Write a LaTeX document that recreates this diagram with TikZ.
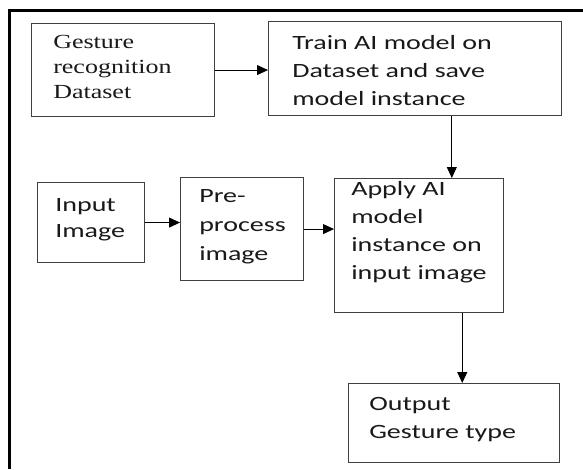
\documentclass[tikz,border=0pt]{standalone}
\usepackage{fontspec}
\setmainfont{Liberation Serif}
\newfontfamily\calibrifont{Carlito}
\usetikzlibrary{arrows.meta,calc}
\definecolor{boxgray}{gray}{0.25}
\definecolor{inkgray}{gray}{0.1}
\begin{document}
\begin{tikzpicture}[x=1pt,y=-1pt,
  box/.style={draw=boxgray, line width=1.1pt, inner sep=0pt, anchor=north west},
  % labels are placed by the baseline of their last line
  seriftext/.style={anchor=base west, align=left, inner sep=0pt, text=inkgray,
    xscale=1.3, transform shape, font=\fontsize{20}{25}\selectfont},
  sanstext/.style={anchor=base west, align=left, inner sep=0pt, text=inkgray,
    xscale=1.38, transform shape, font=\calibrifont\fontsize{20.3}{28}\selectfont},
  flow/.style={draw=black, line width=0.9pt, -{Triangle[length=11pt,width=10pt]}},
  frame/.style={draw=black, line width=2.6pt}]
\useasboundingbox (0,0) rectangle (583,469);

% partial outer frame
\draw[frame] (8,10.5) -- (583,10.5);
\draw[frame] (9.5,9.2) -- (9.5,469);

% boxes
\node[box, minimum width=183pt, minimum height=93pt] (data) at (31,23) {};
\node[box, minimum width=293pt, minimum height=94pt] (train) at (268,21) {};
\node[box, minimum width=107pt, minimum height=80pt] (input) at (37,182) {};
\node[box, minimum width=123pt, minimum height=103pt] (pre) at (180,177) {};
\node[box, minimum width=169pt, minimum height=134pt] (apply) at (334,178) {};
\node[box, minimum width=211pt, minimum height=79pt] (out) at (348,383) {};

% labels
\node[seriftext] (datatext) at (53,98) {Gesture\\recognition\\Dataset};
\node[sanstext] (traintext) at (292,105) {Train AI model on\\Dataset and save\\model instance};
\node[sanstext, font=\calibrifont\fontsize{20.3}{26}\selectfont] (inputtext) at (55,237) {Input\\Image};
\node[sanstext, font=\calibrifont\fontsize{20.3}{29}\selectfont] (pretext) at (199,260) {Pre-\\process\\image};
\node[sanstext] (applytext) at (351,279) {Apply AI\\model\\instance on\\input image};
\node[sanstext] (outtext) at (369,438) {Output\\Gesture type};

% connectors
\coordinate (trainfoot) at ($(train.south west)!0.625!(train.south east)$);
\coordinate (applyfoot) at ($(apply.south west)!0.754!(apply.south east)$);
\draw[flow] (data.east) -- (data.east -| train.west);
\draw[flow] (trainfoot) -- (trainfoot |- apply.north);
\draw[flow] (input.east) -- (input.east -| pre.west);
\draw[flow] (pre.east) -- (pre.east -| apply.west);
\draw[flow] (applyfoot) -- (applyfoot |- out.north);
\end{tikzpicture}
\end{document}
